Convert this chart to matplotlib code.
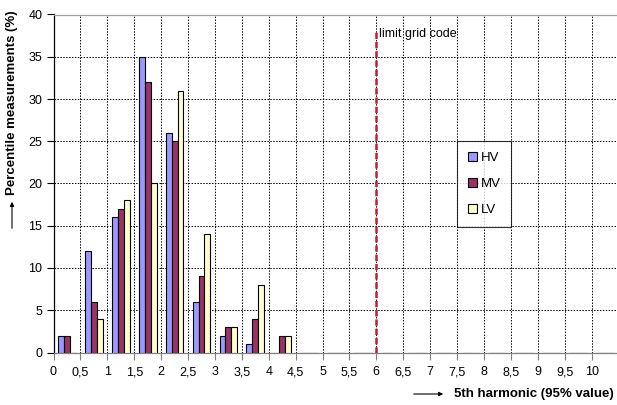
import matplotlib
matplotlib.use("Agg")
import matplotlib.pyplot as plt
import numpy as np
from matplotlib.patches import Patch

plt.rcParams['font.family'] = ['Liberation Sans', 'DejaVu Sans']

# lower edge of each 0.5-wide bin of the 5th harmonic (95% value)
bin_start = [0, 0.5, 1, 1.5, 2, 2.5, 3, 3.5, 4, 4.5, 5, 5.5, 6, 6.5, 7, 7.5, 8, 8.5, 9, 9.5, 10]
hv = [2, 12, 16, 35, 26, 6, 2, 1, 0, 0, 0, 0, 0, 0, 0, 0, 0, 0, 0, 0, 0]
mv = [2, 6, 17, 32, 25, 9, 3, 4, 2, 0, 0, 0, 0, 0, 0, 0, 0, 0, 0, 0, 0]
lv = [0, 4, 18, 20, 31, 14, 3, 8, 2, 0, 0, 0, 0, 0, 0, 0, 0, 0, 0, 0, 0]
tick_vals = [0, 0.5, 1, 1.5, 2, 2.5, 3, 3.5, 4, 4.5, 5, 5.5, 6, 6.5, 7, 7.5, 8, 8.5, 9, 9.5, 10]
tick_labels = ['0', '0,5', '1', '1,5', '2', '2,5', '3', '3,5', '4', '4,5', '5',
               '5,5', '6', '6,5', '7', '7,5', '8', '8,5', '9', '9,5', '10']
limit_x = 6
limit_top = 38

series = [('HV', hv, '#9999FF'), ('MV', mv, '#993366'), ('LV', lv, '#FFFFCC')]

fig = plt.figure(figsize=(6.17, 4.05), dpi=100)
ax = fig.add_axes([53.5 / 617, 52.5 / 405, 565 / 617, 338 / 405])

centers = np.array(bin_start) + 0.25
w = 0.11
for k, (name, vals, col) in enumerate(series):
    ax.bar(centers + (k - 1) * w, vals, width=w, color=col, edgecolor='black',
           linewidth=0.8, zorder=3)

ax.set_xlim(0, 10.5)
ax.set_ylim(0, 40)
ax.set_xticks(tick_vals)
ax.set_xticklabels(tick_labels)
ax.set_yticks(range(0, 41, 5))
ax.tick_params(axis='y', direction='out', length=5, width=0.8, labelsize=9, pad=3)
ax.tick_params(axis='x', direction='out', length=5, width=0.8, color='#808080',
               labelsize=9, pad=5)

ax.grid(True, color='black', linestyle=(0, (1.5, 1.5)), linewidth=0.7, zorder=0)
ax.spines['left'].set_color('black')
ax.spines['bottom'].set_color('#808080')
ax.spines['top'].set_color('#a0a0a0')
ax.spines['right'].set_visible(False)
for s in ax.spines.values():
    s.set_linewidth(0.9)

# limit line
ax.plot([limit_x, limit_x], [0, limit_top], color='#C0202A', linestyle=(0, (2.5, 1.2)),
        linewidth=1.8, zorder=4)
ax.text(limit_x + 0.04, limit_top - 0.3, 'limit grid code', fontsize=9, va='center',
        ha='left', zorder=5)

handles = [Patch(facecolor=c, edgecolor='black', linewidth=0.8, label=n) for n, _, c in series]
leg = ax.legend(handles=handles, loc='upper left', bbox_to_anchor=(457 / 617, 1 - 141 / 405),
                bbox_transform=fig.transFigure, fontsize=9.5, frameon=True, fancybox=False,
                handlelength=0.7, handleheight=0.7, handletextpad=0.3, labelspacing=1.05,
                borderpad=0.8, borderaxespad=0)
leg.get_frame().set_edgecolor('black')
leg.get_frame().set_linewidth(0.8)

# axis titles with arrows
fig.text(12 / 617, 1 - 103 / 405, 'Percentile measurements (%)', rotation=90, fontsize=9.5,
         fontweight='bold', ha='center', va='center')
ax.annotate('', xy=(12 / 617, 1 - 199 / 405), xytext=(12 / 617, 1 - 231 / 405),
            xycoords='figure fraction',
            arrowprops=dict(arrowstyle='-|>', color='black', lw=0.8, mutation_scale=6))
fig.text(534 / 617, 1 - 394 / 405, '5th harmonic (95% value)', fontsize=9.5,
         fontweight='bold', ha='center', va='center')
ax.annotate('', xy=(446 / 617, 1 - 394 / 405), xytext=(411 / 617, 1 - 394 / 405),
            xycoords='figure fraction',
            arrowprops=dict(arrowstyle='-|>', color='black', lw=0.8, mutation_scale=6))

fig.savefig('out.png', dpi=100)
